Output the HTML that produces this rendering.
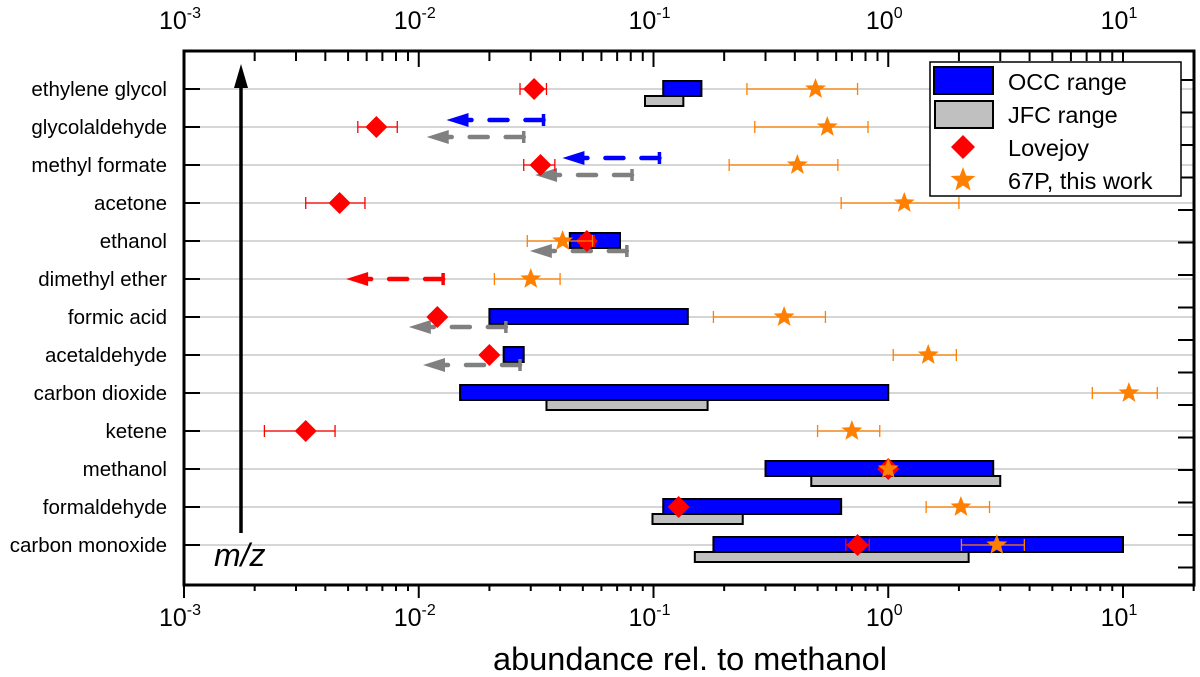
<!DOCTYPE html>
<html><head><meta charset="utf-8"><style>
body{margin:0;background:#fff}
svg{display:block;font-family:"Liberation Sans",Arial,sans-serif}
</style></head><body>
<svg id="chart" width="1200" height="677" viewBox="0 0 1200 677"></svg>
<script>
const species=["ethylene glycol","glycolaldehyde","methyl formate","acetone","ethanol","dimethyl ether","formic acid","acetaldehyde","carbon dioxide","ketene","methanol","formaldehyde","carbon monoxide"];
// OCC ranges [row, lo, hi]
const occRows=[0,4,6,7,8,10,11,12];
const occLo=[0.11,0.044,0.020,0.023,0.015,0.30,0.11,0.18];
const occHi=[0.16,0.072,0.14,0.028,1.0,2.8,0.63,10];
const jfcRows=[0,8,10,11,12];
const jfcLo=[0.092,0.035,0.47,0.099,0.15];
const jfcHi=[0.134,0.17,3.0,0.24,2.2];
// upper limits
const occLimRows=[1,2];
const occLimVals=[0.034,0.106];
const jfcLimRows=[1,2,4,6,7];
const jfcLimVals=[0.028,0.081,0.077,0.0235,0.027];
const lovLimRows=[5];
const lovLimVals=[0.0127];
// Lovejoy
const lovRows=[0,1,2,3,4,6,7,9,10,11,12];
const lovVal=[0.031,0.0066,0.033,0.0046,0.052,0.012,0.020,0.0033,1.0,0.128,0.74];
const lovLo=[0.027,0.0055,0.028,0.0033,0.049,0.0115,0.0195,0.0022,1.0,0.124,0.66];
const lovHi=[0.035,0.0081,0.038,0.0059,0.056,0.0125,0.0205,0.0044,1.0,0.132,0.83];
// 67P
const p67Rows=[0,1,2,3,4,5,6,7,8,9,10,11,12];
const p67Val=[0.49,0.55,0.41,1.17,0.041,0.030,0.36,1.48,10.6,0.70,1.0,2.04,2.9];
const p67Lo=[0.25,0.27,0.21,0.63,0.029,0.021,0.18,1.05,7.4,0.50,1.0,1.45,2.05];
const p67Hi=[0.74,0.82,0.61,2.0,0.055,0.040,0.54,1.95,14,0.92,1.0,2.7,3.8];
const xTickExp=[-3,-2,-1,0,1];

const NS="http://www.w3.org/2000/svg";
const svg=document.getElementById('chart');
const L=184,R=1194,T=51,B=585,DEC=234.75;
const X=v=>L+DEC*(Math.log10(v)+3);
const Y=i=>89+38*i;
function el(tag,attrs,parent){const e=document.createElementNS(NS,tag);for(const k in attrs)e.setAttribute(k,attrs[k]);(parent||svg).appendChild(e);return e;}

// grid
species.forEach((s,i)=>{
 const g=el('line',{x1:L,x2:R,y1:Y(i),y2:Y(i),stroke:'#c8c8c8','stroke-width':1.5});
 
 
 const t=el('text',{x:167,y:Y(i)+7,'text-anchor':'end','font-size':20.5});
 t.textContent=s;
 
 
 el('line',{x1:L,x2:L+16,y1:Y(i),y2:Y(i),stroke:'#000','stroke-width':2});
});
// right ticks
for(let k=0;k<16;k++){const y=80+k*32.5;el('line',{x1:R-16,x2:R,y1:y,y2:y,stroke:'#000','stroke-width':2});}
// x ticks
for(let d=-3;d<=1;d++){
 for(let m=1;m<=9;m++){
  const v=m*Math.pow(10,d);if(v>20)break;
  const x=X(v),maj=m===1;
  el('line',{x1:x,x2:x,y1:B,y2:B+(maj?13:6),stroke:'#000','stroke-width':2});
  el('line',{x1:x,x2:x,y1:T,y2:T+(maj?16:10),stroke:'#000','stroke-width':2});
 }
}
xTickExp.forEach(e=>{
 [[B+41,'bottom'],[T-22,'top']].forEach(([y,w])=>{
  const t=el('text',{x:X(Math.pow(10,e))-4,y:y,'text-anchor':'middle','font-size':25});
  
  
  t.appendChild(document.createTextNode('10'));
  const s=el('tspan',{'font-size':16,dy:-11},t);s.textContent=String(e);
 });
});
// bars
function bar(x1,x2,y1,y2,fill,name){const r=el('rect',{x:x1,y:y1,width:x2-x1,height:y2-y1,fill:fill,stroke:'#000','stroke-width':2});}
jfcRows.forEach((r,k)=>bar(X(jfcLo[k]),X(jfcHi[k]),Y(r)+7,Y(r)+17,'#c0c0c0','jfc-bar'));
occRows.forEach((r,k)=>bar(X(occLo[k]),X(occHi[k]),Y(r)-8,Y(r)+7,'#0000ff','occ-bar'));
// limit arrows
function limArrow(v,y,col,name){
 const x=X(v),len=97;
 const g=el('g',{});
 
 
 el('line',{x1:x,x2:x-len+14,y1:y,y2:y,stroke:col,'stroke-width':4.5,'stroke-dasharray':'18,18','stroke-linecap':'round'},g);
 el('line',{x1:x,x2:x,y1:y-6,y2:y+6,stroke:col,'stroke-width':3.5},g);
 el('polygon',{points:`${x-len},${y} ${x-len+22},${y-7} ${x-len+22},${y+7}`,fill:col},g);
}
occLimRows.forEach((r,k)=>limArrow(occLimVals[k],Y(r)-7,'#0000ff','occ-upper-limit'));
jfcLimRows.forEach((r,k)=>limArrow(jfcLimVals[k],Y(r)+10,'#808080','jfc-upper-limit'));
lovLimRows.forEach((r,k)=>limArrow(lovLimVals[k],Y(r),'#ff0000','lovejoy-upper-limit'));
// error bars
function err(lo,hi,y,col){el('line',{x1:X(lo),x2:X(hi),y1:y,y2:y,stroke:col,'stroke-width':1.3});[lo,hi].forEach(v=>el('line',{x1:X(v),x2:X(v),y1:y-6,y2:y+6,stroke:col,'stroke-width':1.3}));}
function star(cx,cy,ro,col){let p=[];for(let i=0;i<10;i++){const a=-Math.PI/2+i*Math.PI/5,r=i%2?ro*0.42:ro;p.push((cx+r*Math.cos(a)).toFixed(1)+','+(cy+r*Math.sin(a)).toFixed(1));}return el('polygon',{points:p.join(' '),fill:col});}
lovRows.forEach((r,k)=>{
 err(lovLo[k],lovHi[k],Y(r),'#ff0000');
 const x=X(lovVal[k]),y=Y(r);
 const d=el('polygon',{points:`${x},${y-11} ${x+11},${y} ${x},${y+11} ${x-11},${y}`,fill:'#ff0000'});
 
 
});
p67Rows.forEach((r,k)=>{
 err(p67Lo[k],p67Hi[k],Y(r),'#ff7f00');
 const s=star(X(p67Val[k]),Y(r),11,'#ff7f00');
 
 
});
// axes frame
const f=el('rect',{x:L,y:T,width:R-L,height:B-T,fill:'none',stroke:'#000','stroke-width':3});


// m/z arrow
const mz=el('g',{});


el('line',{x1:241,x2:241,y1:533,y2:80,stroke:'#000','stroke-width':3.5},mz);
el('polygon',{points:'241,64 234,88 248,88',fill:'#000'},mz);
const mzt=el('text',{x:214,y:566,'font-size':32,'font-style':'italic'});
mzt.textContent='m/z';


// x title
const xt=el('text',{x:690,y:670,'text-anchor':'middle','font-size':32.5});
xt.textContent='abundance rel. to methanol';


// legend
const lg=el('g',{});


el('rect',{x:930,y:62,width:251,height:134,fill:'#fff',stroke:'#000','stroke-width':1.5},lg);
el('rect',{x:934,y:67,width:59,height:27,fill:'#0000ff',stroke:'#000','stroke-width':2},lg);
el('rect',{x:935,y:101,width:58,height:27,fill:'#c0c0c0',stroke:'#000','stroke-width':2},lg);
el('polygon',{points:'963,135 975,147 963,159 951,147',fill:'#ff0000'},lg);
star(963,180,13,'#ff7f00');
lg.appendChild(svg.lastChild);
[['OCC range',90],['JFC range',123],['Lovejoy',156],['67P, this work',189]].forEach(([s,y])=>{
 const t=el('text',{x:1008,y:y,'font-size':23.5},lg);t.textContent=s;
 
 
});
</script>
</body></html>
